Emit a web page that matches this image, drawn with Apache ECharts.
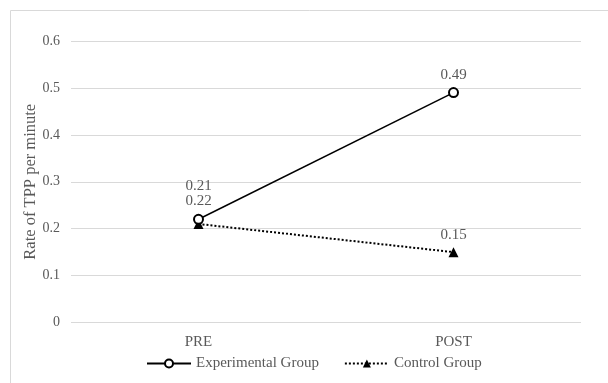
<!DOCTYPE html>
<html>
<head>
<meta charset="utf-8">
<script src="https://cdn.jsdelivr.net/npm/echarts@6/dist/echarts.min.js"></script>
<style>
  html, body { margin: 0; padding: 0; background: #fff; }
  #chart { width: 608px; height: 383px; }
</style>
</head>
<body>
<div id="chart"></div>
<script>
// Rate of TPP per minute, before and after
const categories = ['PRE', 'POST'];
const experimental = [0.22, 0.49];
const control = [0.21, 0.15];
const yTicks = { min: 0, max: 0.6, interval: 0.1 };

const FONT = '"Liberation Serif", "Times New Roman", serif';
const GREY = '#595959';

const chart = echarts.init(document.getElementById('chart'));

const labelBase = {
  show: true,
  position: 'top',
  distance: 5,
  color: GREY,
  fontFamily: FONT,
  fontSize: 15,
  formatter: p => p.value
};

chart.setOption({
  animation: false,
  graphic: [{
    type: 'rect',
    left: 8, top: 8,
    shape: { width: 700, height: 500 },
    style: { fill: 'none', stroke: '#d9d9d9', lineWidth: 1 },
    silent: true
  }],
  grid: { left: 71, right: 27, top: 41, bottom: 60.5 },
  legend: {
    top: 351,
    left: 141,
    itemGap: 25,
    itemWidth: 44,
    itemHeight: 10,
    textStyle: { color: GREY, fontFamily: FONT, fontSize: 15 },
    data: ['Experimental Group', 'Control Group']
  },
  xAxis: {
    type: 'category',
    data: categories,
    boundaryGap: true,
    axisLine: { show: false },
    axisTick: { show: false },
    axisLabel: { color: GREY, fontFamily: FONT, fontSize: 15, margin: 12 }
  },
  yAxis: {
    type: 'value',
    min: yTicks.min,
    max: yTicks.max,
    interval: yTicks.interval,
    name: 'Rate of TPP per minute',
    nameLocation: 'middle',
    nameGap: 32,
    nameMoveOverlap: false,
    nameTextStyle: { color: GREY, fontFamily: FONT, fontSize: 16.5 },
    axisLine: { show: false },
    axisTick: { show: false },
    axisLabel: { color: GREY, fontFamily: FONT, fontSize: 14, margin: 11 },
    splitLine: { lineStyle: { color: '#d9d9d9', width: 1 } }
  },
  series: [
    {
      name: 'Experimental Group',
      type: 'line',
      data: experimental,
      symbol: 'emptyCircle',
      symbolSize: 9,
      itemStyle: { color: '#000', borderColor: '#000', borderWidth: 1.5 },
      lineStyle: { color: '#000', width: 1.5, type: 'solid' },
      label: labelBase,
      z: 3
    },
    {
      name: 'Control Group',
      type: 'line',
      data: control.map((v, i) => i === 0
        ? { value: v, label: { distance: 25 } }
        : { value: v }),
      symbol: 'triangle',
      symbolSize: 10,
      itemStyle: { color: '#000' },
      lineStyle: { color: '#000', width: 2, type: [2, 2] },
      label: labelBase,
      z: 2
    }
  ]
});
</script>
</body>
</html>
